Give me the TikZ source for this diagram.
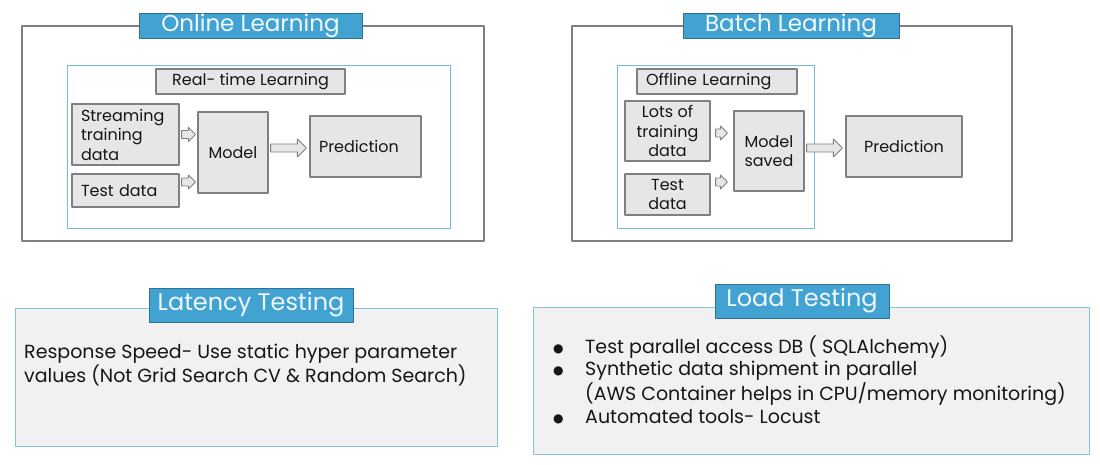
\documentclass[tikz,border=0pt]{standalone}
\usepackage{fontspec}
\setmainfont{Poppins}
\newfontfamily\symfont{DejaVu Sans}
\usetikzlibrary{calc}
\definecolor{hdblue}{RGB}{66,163,211}
\definecolor{hdedge}{RGB}{48,112,150}
\definecolor{hdtext}{RGB}{240,248,252}
\definecolor{framegray}{RGB}{125,126,134}
\definecolor{incyan}{RGB}{112,192,216}
\definecolor{boxfill}{RGB}{230,230,230}
\definecolor{boxedge}{RGB}{128,128,128}
\definecolor{notefill}{RGB}{241,241,241}
\definecolor{notecyan}{RGB}{128,196,222}
\definecolor{ink}{RGB}{22,22,22}
\newcommand{\bul}{\raisebox{1pt}{\symfont\fontsize{12}{12}\selectfont ●}}
\begin{document}
\begin{tikzpicture}[x=1pt,y=-1pt,line join=round]
\tikzset{frame/.style={draw=framegray,line width=1.4pt},
	inframe/.style={draw=incyan,line width=1pt},
	note/.style={draw=notecyan,fill=notefill,line width=1pt},
	head/.style={draw=hdedge,fill=hdblue,text=hdtext,line width=0.8pt,inner sep=0,font=\fontsize{23}{26}\selectfont},
	box/.style={draw=boxedge,fill=boxfill,line width=1.2pt,inner sep=0,text=ink,align=center,font=\fontsize{16}{19.5}\selectfont},
	lbox/.style={box,align=left,inner xsep=9pt},
	txt/.style={inner sep=0,text=ink,align=left,font=\fontsize{19}{22.7}\selectfont},
	blk/.style={draw=boxedge,fill=boxfill,line width=0.9pt,
		to path={let \p1=(\tikztostart),\p2=(\tikztotarget) in
			(\x1,\y1+4pt) -- (\x2-#1,\y1+4pt) -- (\x2-#1,\y1+#1) -- (\x2,\y1)
			-- (\x2-#1,\y1-#1) -- (\x2-#1,\y1-4pt) -- (\x1,\y1-4pt) -- cycle}},
	blk/.default=7pt}
\useasboundingbox[fill=white] (0,0) rectangle (1100,465);
% online learning
\draw[frame] (22,26) rectangle (484,241);
\node[head,minimum width=223pt,minimum height=25pt] (onh) at (250.5,25.5) {Online Learning};
\draw[inframe] (67,66) rectangle (450,228);
\node[box,minimum width=189pt,minimum height=25pt] (rt) at (250.5,81.5) {Real- time Learning};
\node[lbox,text width=89pt,minimum height=61pt] (st) at (125.5,134.5) {Streaming\\training\\data};
\node[lbox,text width=89pt,minimum height=33pt] (td) at (125.5,190.5) {Test data};
\node[box,minimum width=70pt,minimum height=81pt] (md) at (233,152.5) {Model};
\node[lbox,text width=93pt,minimum height=61pt] (pr) at (365.5,146.5) {Prediction};
\draw[blk] ([xshift=2pt]st.east) to ([xshift=-2pt]md.west |- st.east);
\draw[blk] ([xshift=2pt,yshift=8.5pt]td.east) to ([xshift=-2pt,yshift=8.5pt]md.west |- td.east);
\draw[blk=9pt] ([xshift=2pt,yshift=4.5pt]md.east) to ([xshift=-3pt,yshift=4.5pt]pr.west |- md.east);
% batch learning
\draw[frame] (572,26) rectangle (1012,241);
\node[head,minimum width=216pt,minimum height=25pt] (bah) at (791,25.5) {Batch Learning};
\draw[inframe] (617,66) rectangle (814,228);
\node[lbox,text width=142pt,minimum height=25pt] (ol) at (717,81.5) {Offline Learning};
\node[box,minimum width=85pt,minimum height=60pt] (lt) at (667.5,131) {Lots of\\training\\data};
\node[box,minimum width=85pt,minimum height=41pt] (tb) at (667.5,194.5) {Test\\data};
\node[box,minimum width=70pt,minimum height=80pt] (ms) at (769,151) {Model\\saved};
\node[box,minimum width=116pt,minimum height=61pt] (pb) at (904,146.5) {Prediction};
\draw[blk] ([xshift=5pt,yshift=-2pt]lt.east) to ([xshift=-6pt,yshift=-2pt]ms.west |- lt.east);
\draw[blk] ([xshift=5pt,yshift=12.5pt]tb.east) to ([xshift=-6pt,yshift=12.5pt]ms.west |- tb.east);
\draw[blk=9pt] ([xshift=2pt,yshift=3pt]ms.east) to ([xshift=-3pt,yshift=3pt]pb.west |- ms.east);
% latency testing
\draw[note] (15,308) rectangle (497,446);
\node[head,font=\fontsize{24}{26}\selectfont,minimum width=204pt,minimum height=34pt] (lah) at (251,305) {Latency Testing};
\node[txt,anchor=base west] (latx) at (24,358) {\begin{tabular}[t]{@{}l@{}}Response Speed- Use static hyper parameter\\values (Not Grid Search CV \& Random Search)\end{tabular}};
% load testing
\draw[note] (533,307) rectangle (1089,454);
\node[head,font=\fontsize{24}{26}\selectfont,minimum width=174pt,minimum height=34pt] (loh) at (802,301) {Load Testing};
\node[txt,anchor=base west] (lotx) at (553,353) {\begin{tabular}[t]{@{}p{32pt}@{}l@{}}
\bul & Test parallel access DB ( SQLAlchemy)\\
\bul & Synthetic data shipment in parallel\\
 & (AWS Container helps in CPU/memory monitoring)\\
\bul & Automated tools- Locust\end{tabular}};
\end{tikzpicture}
\end{document}
